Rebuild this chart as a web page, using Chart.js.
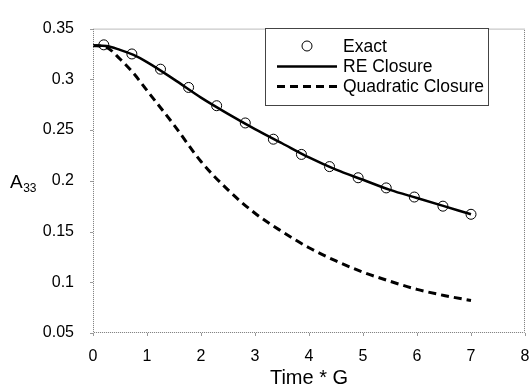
<!DOCTYPE html>
<html>
<head>
<meta charset="utf-8">
<script src="https://cdn.jsdelivr.net/npm/chart.js@4"></script>
<style>
  body { margin: 0; background: #fff; }
  canvas { display: block; }
</style>
</head>
<body>
<canvas id="chart" width="531" height="391"></canvas>
<script>
// values
const exactX = [0.2, 0.72, 1.25, 1.77, 2.29, 2.82, 3.34, 3.86, 4.38, 4.91, 5.43, 5.95, 6.48, 7.0];
const exactY = [0.334, 0.325, 0.310, 0.292, 0.274, 0.257, 0.241, 0.226, 0.214, 0.203, 0.193, 0.184, 0.175, 0.167];

const curveX = [0, 0.25, 0.5, 0.75, 1, 1.5, 2, 2.5, 3, 3.5, 4, 4.5, 5, 5.5, 6, 6.5, 7];
const reY = [0.3333, 0.3328, 0.329, 0.324, 0.317, 0.300, 0.282, 0.266, 0.251, 0.237, 0.223, 0.211, 0.201, 0.191, 0.183, 0.175, 0.167];
const quadY = [0.3333, 0.3315, 0.320, 0.306, 0.289, 0.255, 0.219, 0.191, 0.168, 0.150, 0.134, 0.121, 0.110, 0.101, 0.093, 0.087, 0.082];

const xTicks = [0, 1, 2, 3, 4, 5, 6, 7, 8];
const yTicks = [0.05, 0.1, 0.15, 0.2, 0.25, 0.3, 0.35];

const FONT = '"Liberation Sans", Arial, Helvetica, sans-serif';

const toPoints = (xs, ys) => xs.map((x, i) => ({ x, y: ys[i] }));

// dotted frame, little tick marks and the A33 axis label
const framePlugin = {
  id: 'frame',
  afterDraw(chart) {
    const { ctx, chartArea: a, scales } = chart;
    ctx.save();
    ctx.strokeStyle = '#777';
    ctx.lineWidth = 1;
    ctx.setLineDash([1, 1]);
    ctx.strokeRect(a.left + 0.5, a.top + 0.5, a.right - a.left - 1, a.bottom - a.top - 1);
    ctx.setLineDash([]);
    ctx.strokeStyle = '#999';
    yTicks.forEach(v => {
      const y = Math.round(scales.y.getPixelForValue(v)) + 0.5;
      ctx.beginPath();
      ctx.moveTo(a.left - 3, y);
      ctx.lineTo(a.left, y);
      ctx.stroke();
    });
    xTicks.forEach(v => {
      const x = Math.round(scales.x.getPixelForValue(v)) + 0.5;
      ctx.beginPath();
      ctx.moveTo(x, a.bottom);
      ctx.lineTo(x, a.bottom + 3);
      ctx.stroke();
    });

    // y axis title with subscript
    const midY = (a.top + a.bottom) / 2;
    ctx.fillStyle = '#000';
    ctx.textBaseline = 'alphabetic';
    ctx.textAlign = 'left';
    ctx.font = '19px ' + FONT;
    ctx.fillText('A', 10, midY + 7);
    const w = ctx.measureText('A').width;
    ctx.font = '12px ' + FONT;
    ctx.fillText('33', 10 + w + 0.5, midY + 11);
    ctx.restore();
  }
};

// boxed legend in the upper right
const legendPlugin = {
  id: 'boxLegend',
  afterDraw(chart) {
    const { ctx } = chart;
    const box = { left: 265, top: 28, right: 488, bottom: 105 };
    ctx.save();
    ctx.fillStyle = '#fff';
    ctx.fillRect(box.left, box.top, box.right - box.left, box.bottom - box.top);
    ctx.strokeStyle = '#444';
    ctx.lineWidth = 1;
    ctx.strokeRect(box.left + 0.5, box.top + 0.5, box.right - box.left, box.bottom - box.top);

    const rows = [46, 66.5, 86.5];
    ctx.font = '17.5px ' + FONT;
    ctx.textBaseline = 'middle';
    ctx.fillStyle = '#000';
    chart.data.datasets.forEach((ds, i) => {
      const y = rows[i];
      if (ds.showLine === false) {
        ctx.beginPath();
        ctx.lineWidth = 1;
        ctx.strokeStyle = '#000';
        ctx.arc(307, y, 5, 0, Math.PI * 2);
        ctx.stroke();
      } else {
        ctx.beginPath();
        ctx.lineWidth = ds.borderWidth;
        ctx.strokeStyle = ds.borderColor;
        ctx.setLineDash(ds.borderDash || []);
        ctx.moveTo(277, y);
        ctx.lineTo(337, y);
        ctx.stroke();
        ctx.setLineDash([]);
      }
      ctx.fillText(ds.label, 343, y + 1);
    });
    ctx.restore();
  }
};

new Chart(document.getElementById('chart'), {
  type: 'line',
  data: {
    datasets: [
      {
        label: 'Exact',
        data: toPoints(exactX, exactY),
        showLine: false,
        pointStyle: 'circle',
        pointRadius: 5,
        pointBorderWidth: 1,
        pointBorderColor: '#000',
        pointBackgroundColor: 'rgba(0,0,0,0)'
      },
      {
        label: 'RE Closure',
        data: toPoints(curveX, reY),
        borderColor: '#000',
        borderWidth: 2.5,
        pointRadius: 0,
        cubicInterpolationMode: 'monotone'
      },
      {
        label: 'Quadratic Closure',
        data: toPoints(curveX, quadY),
        borderColor: '#000',
        borderWidth: 3,
        borderDash: [8, 5],
        pointRadius: 0,
        cubicInterpolationMode: 'monotone'
      }
    ]
  },
  options: {
    responsive: false,
    animation: false,
    layout: { padding: { top: 19, right: 4, left: 0, bottom: 0 } },
    plugins: {
      legend: { display: false },
      tooltip: { enabled: false }
    },
    scales: {
      x: {
        type: 'linear',
        min: 0,
        max: 8,
        grid: { display: false, drawTicks: false },
        border: { display: false },
        ticks: { stepSize: 1, color: '#000', padding: 14, font: { size: 16, family: FONT } },
        title: {
          display: true,
          text: 'Time * G',
          color: '#000',
          font: { size: 20, family: FONT },
          padding: { top: 0, bottom: 1 }
        },
        afterFit: s => {
          s.height = 58;
          s.paddingLeft = 0;
          s.paddingRight = 0;
        }
      },
      y: {
        min: 0.05,
        max: 0.35,
        grid: { display: false, drawTicks: false },
        border: { display: false },
        ticks: {
          stepSize: 0.05,
          color: '#000',
          padding: 19,
          font: { size: 16, family: FONT },
          callback: v => String(+v.toFixed(2))
        },
        afterFit: s => { s.width = 93; }
      }
    }
  },
  plugins: [framePlugin, legendPlugin]
});
</script>
</body>
</html>
